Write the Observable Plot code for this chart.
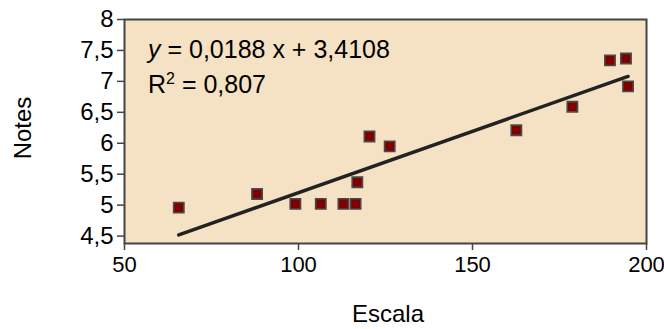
<!DOCTYPE html>
<html>
<head>
<meta charset="utf-8">
<script src="https://cdn.jsdelivr.net/npm/d3@7"></script>
<script src="https://cdn.jsdelivr.net/npm/@observablehq/plot@0.6"></script>
<style>
  html, body { margin: 0; padding: 0; background: #fff; }
  svg { display: block; }
</style>
</head>
<body>
<div id="chart"></div>
<script>
// Data
const escala = [65.6, 88.1, 99.1, 106.4, 112.9, 116.4, 116.9, 120.4, 126.2, 162.6, 178.7, 189.5, 194.1, 194.7];
const notes  = [4.96, 5.18, 5.02, 5.02, 5.02, 5.02, 5.37, 6.11, 5.95, 6.21, 6.59, 7.34, 7.37, 6.92];
const trendX = [65.6, 194.7];
const trendY = [4.52, 7.08];
const xTicks = [50, 100, 150, 200];
const yTicks = [4.5, 5, 5.5, 6, 6.5, 7, 7.5, 8];
const equationText = " = 0,0188 x + 3,4108";
const r2Text = " = 0,807";

const points = escala.map((x, i) => ({x, y: notes[i]}));
const trend = trendX.map((x, i) => ({x, y: trendY[i]}));
const fmt = d => String(d).replace(".", ",");

const font = "Arial, 'Liberation Sans', sans-serif";

const plot = Plot.plot({
  width: 664,
  height: 329,
  marginLeft: 124,
  marginRight: 18,
  marginTop: 19,
  marginBottom: 86,
  style: {fontFamily: font, fontSize: "24px", color: "#000", background: "#fff"},
  x: {domain: [50, 200], label: null},
  y: {domain: [4.38, 8], label: null},
  marks: [
    Plot.frame({fill: "#F5E1C3", stroke: null}),
    Plot.line(trend, {x: "x", y: "y", stroke: "#222", strokeWidth: 3.5}),
    Plot.dot(points, {x: "x", y: "y", symbol: "square", r: 5.8, fill: "#7f0000", stroke: "#4a4a4a", strokeWidth: 1.6}),
    Plot.frame({stroke: "#444", strokeWidth: 2}),
    Plot.axisX({ticks: xTicks, tickFormat: fmt, tickSize: 7, tickPadding: 6, stroke: "#444", strokeWidth: 1.5, label: null, fontSize: 22}),
    Plot.axisY({ticks: yTicks, tickFormat: fmt, tickSize: 7, tickPadding: 4, stroke: "#444", strokeWidth: 1.5, label: null, fontSize: 24})
  ]
});

document.getElementById("chart").appendChild(plot);

const svg = d3.select(plot);
// axis titles
svg.append("text")
  .attr("x", 388).attr("y", 322)
  .attr("text-anchor", "middle")
  .attr("font-family", font).attr("font-size", 24)
  .text("Escala");
svg.append("text")
  .attr("transform", "translate(31,128) rotate(-90)")
  .attr("text-anchor", "middle")
  .attr("font-family", font).attr("font-size", 24)
  .text("Notes");

// equation annotation
const eq = svg.append("text")
  .attr("x", 148).attr("y", 58)
  .attr("text-anchor", "start")
  .attr("font-family", font).attr("font-size", 25);
eq.append("tspan").attr("font-style", "italic").text("y");
eq.append("tspan").text(equationText);

const r2 = svg.append("text")
  .attr("x", 148).attr("y", 93)
  .attr("text-anchor", "start")
  .attr("font-family", font).attr("font-size", 25);
r2.append("tspan").text("R");
r2.append("tspan").attr("font-size", 16).attr("dy", -9).text("2");
r2.append("tspan").attr("dy", 9).text(r2Text);
</script>
</body>
</html>
